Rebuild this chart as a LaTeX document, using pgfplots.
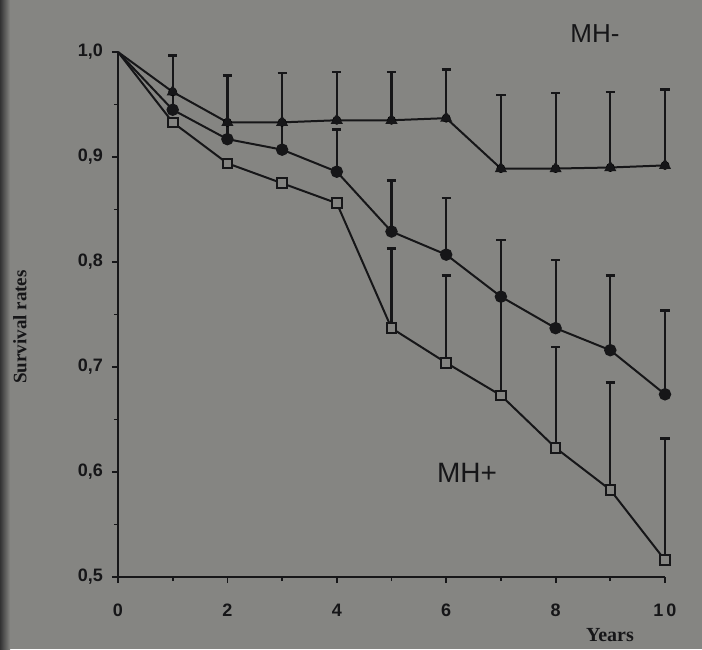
\documentclass[border=0pt]{standalone}
\usepackage{pgfplots}
\pgfplotsset{compat=1.18}
\usepackage{fontspec}
\setmainfont{Liberation Serif}
\setsansfont{Liberation Sans}

\definecolor{slide}{RGB}{133,133,130}
\definecolor{ink}{RGB}{22,22,24}

% x = years, then survival rate and upward error for each group
\pgfplotstableread{
x   y     e
1   0.962 0.035
2   0.933 0.045
3   0.933 0.047
4   0.935 0.046
5   0.935 0.046
6   0.937 0.046
7   0.889 0.070
8   0.889 0.072
9   0.890 0.072
10  0.892 0.072
}\mhminus
\pgfplotstableread{
x   y     e
1   0.945 0.015
2   0.917 0.016
3   0.907 0.026
4   0.886 0.040
5   0.829 0.049
6   0.807 0.054
7   0.767 0.054
8   0.737 0.065
9   0.716 0.071
10  0.674 0.080
}\mhmid
\pgfplotstableread{
x   y     e
5   0.737 0.076
6   0.704 0.083
7   0.673 0.094
8   0.623 0.096
9   0.583 0.102
10  0.516 0.116
}\mhpluserr

\pgfplotsset{upbars/.style={only marks, mark=none,
    error bars/.cd, y dir=plus, y explicit,
    error bar style={ink, line width=1.1pt},
    error mark options={ink, rotate=90, line width=1.4pt, mark size=2.3pt}}}

\begin{document}
\begin{tikzpicture}
\fill[slide] (0,0) rectangle (351pt,324.5pt);
\useasboundingbox (0,0) rectangle (351pt,324.5pt);
\fill[left color=black!80, right color=slide] (0,0) rectangle (5pt,324.5pt);

\begin{axis}[
    at={(59pt,36pt)}, anchor=south west,
    width=273.5pt, height=262.5pt, scale only axis,
    xmin=0, xmax=10, ymin=0.5, ymax=1.0,
    axis x line*=bottom, axis y line*=left,
    axis line style={ink, line width=1pt},
    xtick={0,2,4,6,8,10},
    xticklabels={0,2,4,6,8,1\,0},
    minor xtick={1,3,5,7,9},
    ytick={0.5,0.6,0.7,0.8,0.9,1.0},
    minor ytick={0.55,0.65,0.75,0.85,0.95},
    tick align=outside,
    major tick length=3pt, minor tick length=2pt,
    tick style={ink, line width=0.9pt},
    /pgf/number format/assume math mode=true,
    yticklabel={\pgfmathprintnumber[fixed, fixed zerofill, precision=1, use comma]{\tick}},
    ticklabel style={font=\sffamily\bfseries\fontsize{9}{10}\selectfont, text=ink},
    xticklabel style={yshift=-7pt},
    yticklabel style={xshift=-1pt},
    clip=false,
]
% error bars, drawn first so the marks sit on top
\addplot[upbars] table[x=x, y=y, y error=e] {\mhminus};
\addplot[upbars] table[x=x, y=y, y error=e] {\mhmid};
\addplot[upbars] table[x=x, y=y, y error=e] {\mhpluserr};

% MH- : filled triangles
\addplot[ink, line width=1pt, mark=triangle*, mark size=2.5pt,
    mark indices={2,3,4,5,6,7,8,9,10,11}, mark options={fill=ink}]
    coordinates {(0,1.0) (1,0.962) (2,0.933) (3,0.933) (4,0.935) (5,0.935)
                 (6,0.937) (7,0.889) (8,0.889) (9,0.890) (10,0.892)};
% filled circles
\addplot[ink, line width=1pt, mark=*, mark size=2.6pt,
    mark indices={2,3,4,5,6,7,8,9,10,11}, mark options={fill=ink}]
    coordinates {(0,1.0) (1,0.945) (2,0.917) (3,0.907) (4,0.886) (5,0.829)
                 (6,0.807) (7,0.767) (8,0.737) (9,0.716) (10,0.674)};
% MH+ : open squares
\addplot[ink, line width=1pt, mark=square*, mark size=2.4pt,
    mark indices={2,3,4,5,6,7,8,9,10,11},
    mark options={fill=slide, line width=1pt}]
    coordinates {(0,1.0) (1,0.933) (2,0.894) (3,0.875) (4,0.856) (5,0.737)
                 (6,0.704) (7,0.673) (8,0.623) (9,0.583) (10,0.516)};
\end{axis}

\node[text=ink, font=\bfseries\fontsize{10}{12}\selectfont] at (305pt,7pt) {Years};
\node[text=ink, font=\bfseries\fontsize{9.5}{12}\selectfont, rotate=90] at (10pt,161pt) {Survival rates};
\node[text=ink, font=\sffamily\fontsize{13}{15}\selectfont] at (297.5pt,307.5pt) {MH-};
\node[text=ink, font=\sffamily\fontsize{14}{16}\selectfont] at (233.5pt,88pt) {MH+};
\end{tikzpicture}
\end{document}
